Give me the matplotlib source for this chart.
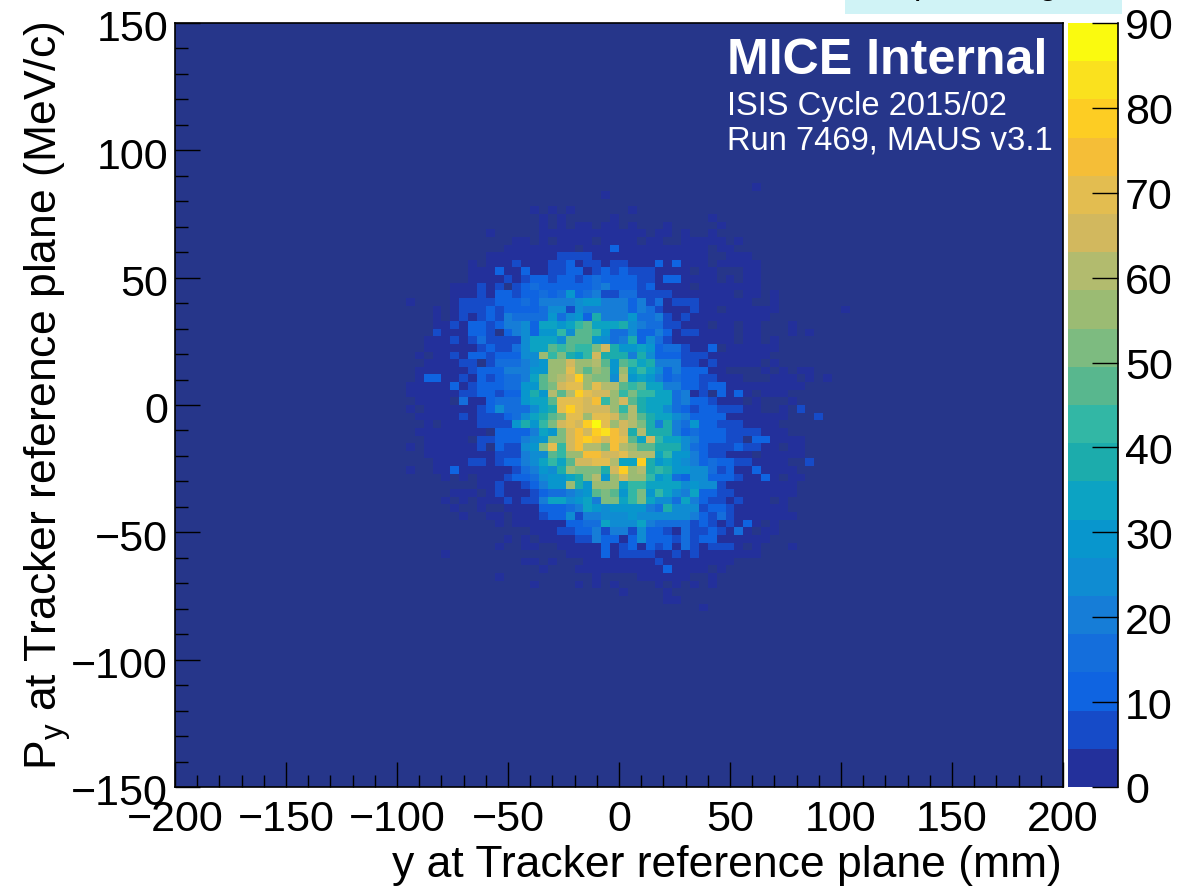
import numpy as np
import matplotlib
matplotlib.use("Agg")
import matplotlib.pyplot as plt
from matplotlib.colors import ListedColormap, BoundaryNorm
from matplotlib.patches import Rectangle
from matplotlib.transforms import ScaledTranslation

plt.rcParams["font.family"] = ["Liberation Sans", "DejaVu Sans"]
plt.rcParams["mathtext.fontset"] = "custom"
plt.rcParams["mathtext.rm"] = "Liberation Sans"

W, H = 1203, 887

# histogram binning: 100 x 100 bins
x_edges = np.linspace(-200, 200, 101)
y_edges = np.linspace(150, -150, 101)

# bin counts, one entry per Py row starting at row 21 from the top
# first_bin = x bin of the first value of the row, minus 26
first_bin = [39, 22, 0, 14, 15, 15, 9, 12, 11, 9, 7, 7, 7, 5, 5, 0, 3, 3, 3, 3, 2, 2, 1, 2, 1, 1, 0, 0, 0,
             0, 1, 1, 1, 2, 0, 2, 3, 0, 4, 8, 5, 4, 5, 6, 10, 14, 11, 10, 4, 13, 15, 10, 14, 24, 29, 33]
row_counts = [
    [2],
    [2],
    [],
    [2,0,2,0,2,0,0,0,0,0,0,2],
    [2,0,2,0,0,0,0,0,2,0,0,0,0,0,0,0,0,0,0,2],
    [2,0,2,0,2,2,0,2,2,0,2,0,0,0,2,0,0,0,0,0,2],
    [2,0,0,0,0,0,2,2,2,2,2,2,2,2,2,2,2,2,0,2,2,0,2,0,0,2],
    [2,2,0,2,0,2,2,2,2,0,2,2,2,2,0,2,2,0,0,2,2,2,2,2,0,2],
    [2,2,2,2,2,2,2,2,0,2,2,2,11,2,2,2,2,2,2,2,2,2,2,0,2,2],
    [2,2,2,2,2,2,2,2,7,7,7,7,2,2,2,2,2,2,2,2,2,2,2,2,2,0,0,2,2,2],
    [2,0,2,2,2,7,2,2,2,7,7,11,2,7,7,2,7,7,2,2,2,11,2,11,2,2,2,0,2,2,2,2,2],
    [2,2,2,11,2,2,11,2,2,7,7,11,11,2,7,11,7,11,7,7,7,2,2,2,2,0,2,2,0,0,0,2,2],
    [2,2,2,2,7,2,7,11,11,7,11,11,7,11,16,11,11,11,11,7,7,2,11,11,2,2,2,2,0,2,0,2,2],
    [2,2,2,7,2,7,0,7,11,16,11,11,11,11,11,11,16,20,11,11,11,7,11,2,2,2,2,0,2,2,2,2,2,2,2],
    [2,2,2,7,2,11,11,7,11,11,16,11,16,29,11,16,20,7,7,16,16,7,7,7,7,2,2,2,2,2,2,2,0,2,2,0,2],
    [2,0,0,0,0,2,7,7,7,7,11,11,11,16,11,20,20,20,20,25,29,29,20,20,20,11,20,7,16,2,7,7,7,2,2,2,2,2,2,0,0,2],
    [2,0,2,7,7,7,11,7,11,11,11,11,16,25,25,7,25,20,20,20,20,20,11,20,16,7,2,2,2,7,2,2,0,2,2,2,2,2,2,0,0,0,0,0,0,0,2],
    [2,0,2,7,2,7,11,7,20,16,16,16,16,29,16,25,29,11,38,20,20,20,29,16,16,20,7,2,7,2,2,2,2,2,2,2,2,2],
    [2,2,7,2,11,11,7,11,20,20,25,11,34,34,29,34,43,47,34,34,34,38,25,20,16,16,7,7,2,2,2,0,2,2,0,2,2,0,0,0,2],
    [7,2,2,2,11,11,7,0,11,20,25,11,29,29,43,25,47,47,43,29,16,16,25,11,11,20,11,2,7,7,2,2,2,2,0,2,2,0,0,0,2,0,2],
    [2,2,2,7,2,7,16,7,7,7,7,25,34,34,34,25,47,47,47,29,25,16,20,38,11,25,16,7,2,2,2,2,2,2,2,0,2,2,0,2],
    [2,2,2,2,2,2,7,11,7,7,16,25,34,34,47,43,47,43,43,52,65,38,29,29,34,29,11,16,16,7,2,2,11,0,2,2,2,2,2,2],
    [2,0,2,2,7,2,11,11,7,11,11,11,25,25,56,43,52,38,34,43,65,38,38,38,20,38,25,11,11,11,7,7,7,2,2,2,2,2,2,2],
    [2,2,2,2,7,7,0,7,16,16,16,20,25,29,56,56,65,56,56,61,47,29,47,43,34,38,20,20,20,7,7,2,7,2,2,2,2,2,0,2],
    [2,2,2,2,2,2,7,11,11,11,20,20,20,29,29,56,56,70,56,47,56,52,29,56,34,43,34,25,11,20,11,11,11,2,2,0,0,0,0,2,0,2,0,2,2],
    [2,11,11,2,2,7,2,11,7,11,16,16,20,34,47,56,61,65,79,56,52,52,25,61,29,34,29,20,11,16,11,11,7,7,2,2,2,0,0,0,2,2,2,0,2,0,2],
    [2,2,2,2,2,11,2,7,11,11,11,16,16,29,29,47,52,65,70,70,56,70,61,61,47,43,47,34,34,20,20,11,11,7,11,11,2,2,2,2,2,2,2,2,2],
    [2,2,2,2,2,2,7,7,11,11,7,11,11,29,38,29,61,47,61,79,70,65,65,56,43,52,43,43,34,34,16,20,2,7,0,11,2,11,2,0,2,2,2],
    [0,2,2,2,2,0,16,2,2,11,16,16,16,29,34,34,47,70,70,70,65,74,43,56,65,47,38,34,34,34,16,20,11,11,7,2,2,2,0,2,0,0,0,2],
    [2,0,2,2,2,2,2,2,7,11,25,16,16,16,25,34,38,70,79,70,65,65,65,56,43,61,38,34,34,25,16,11,7,11,11,7,7,7,2,2,0,0,2,0,7],
    [2,2,2,2,2,7,2,7,7,7,11,16,25,34,38,47,52,70,70,56,70,70,65,52,61,47,38,34,34,25,20,11,11,11,11,2,2,2,2,2,2,2,0,0,0,7],
    [0,2,0,2,2,2,2,7,7,7,7,29,38,29,43,52,65,70,65,79,88,70,56,65,61,52,38,20,38,20,16,29,11,11,7,7,7,2,2,2,2],
    [2,2,2,2,2,2,2,2,0,11,11,11,11,20,34,29,52,65,74,65,79,83,74,65,38,61,38,38,38,20,11,16,11,11,11,7,7,7,7,2,2,2],
    [2,2,2,2,2,0,7,7,11,11,11,20,25,29,52,52,65,74,79,74,65,74,70,47,34,65,43,34,34,25,20,11,11,11,7,7,0,11,11,2,2,2,2],
    [2,0,2,2,2,2,2,2,7,0,11,7,7,25,29,52,70,43,65,74,61,61,52,74,61,56,47,47,38,38,38,25,16,11,7,7,7,11,7,7,2,2,0,2,2],
    [2,2,2,2,2,2,2,2,7,7,7,20,25,25,47,43,56,56,74,74,65,65,70,61,61,61,34,43,29,29,20,11,7,7,2,2,2,0,2,2,2,2,2],
    [2,2,2,2,7,7,2,7,11,11,20,25,34,43,34,47,65,65,70,70,61,34,34,79,38,29,34,29,25,20,11,16,11,11,7,7,2,2,2,2,0,0,7],
    [2,0,0,2,2,11,2,2,2,2,2,2,7,16,20,29,25,38,56,52,52,52,38,65,79,56,61,38,43,38,29,29,25,25,16,7,11,2,2,11,2,2,2,2],
    [2,0,2,0,2,2,2,7,11,11,16,25,29,29,34,38,52,61,29,56,65,56,56,43,29,34,16,11,25,25,11,11,11,7,2,2,11,2,0,2,2],
    [2,2,7,2,2,7,11,20,29,29,56,38,29,56,56,56,34,43,43,34,34,34,34,25,29,25,25,7,2,2,2,2,2,2,2,2],
    [2,2,2,0,2,7,2,2,2,7,11,16,16,20,25,29,47,52,47,29,43,52,29,43,34,25,20,34,11,11,7,7,2,2,2,2,2,2,2],
    [2,0,2,0,2,2,2,7,2,7,7,20,34,34,25,29,34,20,52,52,34,43,52,34,25,25,16,34,20,11,7,7,2,7,2,2,2,0,2],
    [2,0,0,2,0,0,2,2,2,2,11,11,11,16,20,34,29,25,29,29,29,29,20,16,38,25,25,25,7,11,11,7,2,2,2,2,2,2],
    [2,0,0,2,2,0,2,2,2,7,11,11,25,7,20,20,25,25,25,29,25,25,25,25,25,25,20,11,7,16,7,2,2,2,2,2,2,2],
    [2,0,2,2,2,2,2,2,11,11,16,16,34,25,25,25,34,20,16,16,16,16,7,11,7,2,7,2,11,2,0,2],
    [2,2,2,7,7,11,11,20,7,20,20,7,25,11,11,7,2,16,7,7,11,7,2,16,2,0,2,2],
    [2,0,2,0,2,2,2,2,7,7,20,11,11,2,11,25,11,11,11,7,16,7,11,11,2,2,2,2,2,2,0],
    [2,0,0,2,2,0,0,2,2,2,2,2,11,2,7,11,2,11,7,11,2,16,7,2,7,7,7,2,0,2,0,0,0,2],
    [2,0,0,0,0,0,0,0,0,0,0,0,0,0,2,2,2,2,11,2,7,7,7,7,2,2,7,2,7,2,2,2,2,2,2,2],
    [2,2,0,2,0,0,0,2,2,2,2,2,2,2,2,7,2,2,2,2,2,2,2,2],
    [2,0,0,0,2,2,2,2,2,2,2,2,2,2,11,2,2,2,2,0,2],
    [2,0,0,0,0,0,0,0,0,0,0,2,0,0,0,0,2,2,2,2,2,2,0,0,2],
    [2,0,0,0,0,2,0,2,0,2,0,0,0,0,2,0,2,0,2,0,2],
    [2,0,0,0,0,2],
    [2,2],
    [2],
]

# colour bands of the z palette, bottom to top
band_colors = ["#23309b", "#164bc8", "#0f64e1", "#146edc", "#167dd7", "#0f8cd2", "#0896cd", "#0ca3c3",
               "#1cacac", "#32b7a5", "#58b78e", "#7dbb80", "#9bbb73", "#b2bb6e", "#d2b85e", "#e3bd50",
               "#f5be37", "#fdcd23", "#fae11e", "#fafa0f"]
z_ticks = [0, 10, 20, 30, 40, 50, 60, 70, 80, 90]
x_ticks = [-200, -150, -100, -50, 0, 50, 100, 150, 200]
y_ticks = [-150, -100, -50, 0, 50, 100, 150]

counts = np.zeros((100, 100))
for r, (start, vals) in enumerate(zip(first_bin, row_counts)):
    counts[21 + r, 26 + start:26 + start + len(vals)] = vals

fig = plt.figure(figsize=(W / 100, H / 100), dpi=100)


def px_rect(left, top, right, bottom):
    return [left / W, 1 - bottom / H, (right - left) / W, (bottom - top) / H]


ax = fig.add_axes(px_rect(175, 24, 1063, 788))
ax.set_facecolor("#26368a")
cmap = ListedColormap(band_colors)
norm = BoundaryNorm(np.linspace(0, 90, 21), 20)
mesh = ax.pcolormesh(x_edges, y_edges, np.ma.masked_equal(counts, 0), cmap=cmap, norm=norm)

ax.set_xlim(-200, 200)
ax.set_ylim(-150, 150)
ax.set_xticks(x_ticks)
ax.set_yticks(y_ticks)
ax.set_xticks(np.arange(-200, 201, 10), minor=True)
ax.set_yticks(np.arange(-150, 151, 10), minor=True)
ax.tick_params(which="major", direction="in", length=18, width=1, labelsize=31)
ax.tick_params(which="minor", direction="in", length=9, width=1)
ax.tick_params(axis="x", which="major", pad=9)
ax.tick_params(axis="y", which="major", pad=5)
for s in ax.spines.values():
    s.set_linewidth(1.2)

# y tick labels sit a little below their ticks
shift = ScaledTranslation(0, -2 / 100, fig.dpi_scale_trans)
for lbl in ax.get_yticklabels():
    lbl.set_transform(lbl.get_transform() + shift)

cax = fig.add_axes(px_rect(1068, 24, 1118, 788))
cb = fig.colorbar(mesh, cax=cax, ticks=z_ticks, spacing="proportional")
cb.outline.set_visible(False)
cax.plot([1, 1], [0, 1], transform=cax.transAxes, color="black", lw=1.2, clip_on=False)
cax.tick_params(direction="in", length=19, width=1, labelsize=31, pad=5)
cax.minorticks_off()

# pale box cut off at the top of the page
fig.patches.append(Rectangle((845 / W, 1 - 15 / H), 277 / W, 15 / H, transform=fig.transFigure,
                             facecolor="#d0f3f6", edgecolor="none"))
fig.text(914 / W, 1 + 6 / H, "p", fontsize=24, color="black", va="baseline")
fig.text(1039 / W, 1 + 6 / H, "g", fontsize=24, color="black", va="baseline")

fig.text(727 / W, 1 - 74 / H, "MICE Internal", color="white", fontsize=36.1, fontweight="bold")
fig.text(727 / W, 1 - 115 / H, "ISIS Cycle 2015/02", color="white", fontsize=23.6)
fig.text(727 / W, 1 - 150 / H, "Run 7469, MAUS v3.1", color="white", fontsize=23.6)

fig.text(1062 / W, 1 - 877 / H, "y at Tracker reference plane (mm)", fontsize=32, ha="right", va="baseline")
fig.text(57 / W, 1 - 22 / H, r"P$_{\mathrm{y}}$ at Tracker reference plane (MeV/c)", fontsize=32,
         rotation=90, ha="right", va="baseline", rotation_mode="anchor")

fig.savefig("out.png", dpi=100)
